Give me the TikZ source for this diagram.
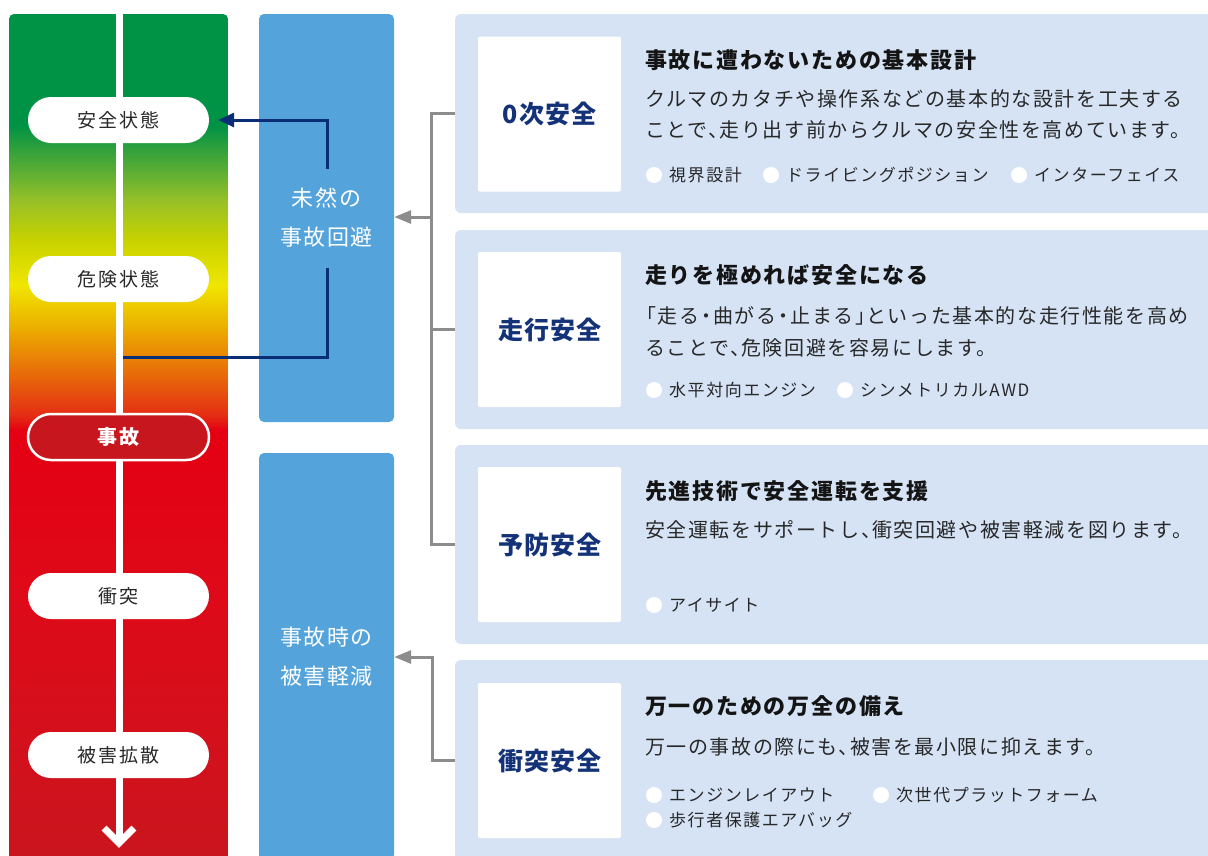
\documentclass[tikz,border=0pt]{standalone}
\usepackage{fontspec}
\setmainfont{Noto Sans CJK JP}
\newfontfamily\jpTitle[LetterSpace=8]{Noto Sans CJK JP}
\newfontfamily\jpBody[LetterSpace=8]{Noto Sans CJK JP}
\newfontfamily\jpBul[LetterSpace=9]{Noto Sans CJK JP}
\newfontfamily\jpPill[LetterSpace=9]{Noto Sans CJK JP}
\newfontfamily\jpBlue[LetterSpace=7]{Noto Sans CJK JP}
\newfontfamily\jpLab[LetterSpace=4]{Noto Sans CJK JP}
\usetikzlibrary{arrows.meta}
\newcommand\tten{、\kern-9pt}
\newcommand\lbr{\kern-9pt「}
\newcommand\rbr{」\kern-9pt}
\newcommand\nkdot{\kern-3pt・\kern-3pt}
\definecolor{gA}{RGB}{0,146,69}
\definecolor{gB}{RGB}{150,192,40}
\definecolor{gC}{RGB}{200,210,0}
\definecolor{gD}{RGB}{240,230,0}
\definecolor{gE}{RGB}{235,170,0}
\definecolor{gF}{RGB}{232,105,10}
\definecolor{gG}{RGB}{228,45,20}
\definecolor{gH}{RGB}{228,0,18}
\definecolor{gI}{RGB}{222,10,25}
\definecolor{gJ}{RGB}{200,22,30}
\definecolor{navy}{RGB}{10,45,120}
\definecolor{labnavy}{RGB}{20,50,120}
\definecolor{bluebox}{RGB}{84,164,219}
\definecolor{cardbg}{RGB}{213,227,245}
\definecolor{gline}{RGB}{140,140,140}
\definecolor{redpill}{RGB}{200,22,30}
\definecolor{txt}{RGB}{40,40,40}
\definecolor{ttl}{RGB}{20,20,20}
\begin{document}
\begin{tikzpicture}[x=1pt,y=-1pt,
  pill/.style={fill=white, rounded corners=23pt, minimum width=181pt, minimum height=46pt, inner sep=0pt, text=txt, font=\jpPill\fontsize{19}{19}\selectfont},
  redp/.style={pill, fill=redpill, draw=white, line width=2.5pt, text=white, font=\jpPill\bfseries\fontsize{20}{20}\selectfont},
  bbox/.style={fill=bluebox, rounded corners=5pt, minimum width=135pt, inner sep=0pt, text=white, align=center, font=\jpBlue\fontsize{22}{39}\selectfont},
  card/.style={fill=cardbg, rounded corners=6pt, minimum width=780pt, minimum height=199pt, inner sep=0pt},
  labbox/.style={fill=white, rounded corners=2pt, minimum width=143pt, minimum height=155pt, inner sep=0pt, text=labnavy, font=\jpLab\bfseries\fontsize{25}{25}\selectfont},
  ttlx/.style={anchor=west, inner sep=0pt, text=ttl, font=\jpTitle\bfseries\fontsize{22}{22}\selectfont},
  bodyx/.style={anchor=west, inner sep=0pt, text=txt, align=left, font=\jpBody\fontsize{20}{31.5}\selectfont},
  dot/.style={circle, fill=white, minimum size=16pt, inner sep=0pt},
  bul/.style={anchor=west, inner sep=0pt, text=txt, font=\jpBul\fontsize{17}{17}\selectfont},
  nline/.style={draw=navy, line width=3pt},
  glin/.style={draw=gline, line width=3pt},
]
\useasboundingbox (0,0) rectangle (1208,855);
\fill[white] (0,0) rectangle (1208,855);

% gradient bar
\begin{scope}
\clip[rounded corners=5pt] (9,14) rectangle (228,880);
\fill[gA] (9,10) rectangle (228,125.5);
\shade[top color=gA, bottom color=gB] (9,125) rectangle (228,200.5);
\shade[top color=gB, bottom color=gC] (9,200) rectangle (228,240.5);
\shade[top color=gC, bottom color=gD] (9,240) rectangle (228,285.5);
\shade[top color=gD, bottom color=gE] (9,285) rectangle (228,330.5);
\shade[top color=gE, bottom color=gF] (9,330) rectangle (228,375.5);
\shade[top color=gF, bottom color=gG] (9,375) rectangle (228,415.5);
\shade[top color=gG, bottom color=gH] (9,415) rectangle (228,430.5);
\shade[top color=gH, bottom color=gI] (9,430) rectangle (228,600.5);
\shade[top color=gI, bottom color=gJ] (9,600) rectangle (228,880);
\end{scope}

% white flow line with chevron
\draw[white, line width=7pt] (119,14) -- (119,842);
\draw[white, line width=7pt, miter limit=10] (104,828) -- (119,843) -- (134,828);

% pills
\node[pill] (p1) at (118.5,120) {安全状態};
\node[pill] (p2) at (118.5,279) {危険状態};
\node[redp] (p3) at (118.5,437) {事故};
\node[pill] (p4) at (118.5,596) {衝突};
\node[pill] (p5) at (118.5,755) {被害拡散};

% blue boxes
\node[bbox, minimum height=408pt] (b1) at (326.5,218) {未然の\\事故回避};
\node[bbox, minimum height=407pt] (b2) at (326.5,656.5) {事故時の\\被害軽減};

% navy connectors
\coordinate (n1) at (327,169);
\coordinate (n2) at (327,268);
\coordinate (n3) at (123,357);
\draw[nline, -{Triangle[length=16pt,width=14pt]}, shorten >=9pt] (n1) |- (p1.east);
\draw[nline] (n2) |- (n3);

% cards
\node[card] (c1) at (845,113.5) {};
\node[card] (c2) at (845,329.5) {};
\node[card] (c3) at (845,544.5) {};
\node[card, minimum height=200pt] (c4) at (845,760) {};

\node[labbox] (l1) at (549.5,114) {0次安全};
\node[labbox] (l2) at (549.5,329.5) {走行安全};
\node[labbox] (l3) at (549.5,544.5) {予防安全};
\node[labbox] (l4) at (549.5,760.5) {衝突安全};

% card 1
\node[ttlx] (t1) at (645,60) {事故に遭わないための基本設計};
\node[bodyx] (x1) at (645,114.5) {クルマのカタチや操作系などの基本的な設計を工夫する\\ことで\tten 走り出す前からクルマの安全性を高めています。};
\node[dot] (d11) at (654,175) {};
\node[bul] (u11) at (669,175) {視界設計};
\node[dot] (d12) at (771,175) {};
\node[bul] (u12) at (786,175) {ドライビングポジション};
\node[dot] (d13) at (1019,175) {};
\node[bul] (u13) at (1034,175) {インターフェイス};

% card 2
\node[ttlx] (t2) at (645,275) {走りを極めれば安全になる};
\node[bodyx] (x2) at (645,332) {\lbr 走る\nkdot 曲がる\nkdot 止まる\rbr といった基本的な走行性能を高め\\ることで\tten 危険回避を容易にします。};
\node[dot] (d21) at (654,390) {};
\node[bul] (u21) at (669,390) {水平対向エンジン};
\node[dot] (d22) at (845,390) {};
\node[bul] (u22) at (860,390) {シンメトリカルAWD};

% card 3
\node[ttlx] (t3) at (645,491) {先進技術で安全運転を支援};
\node[bodyx] (x3) at (645,530) {安全運転をサポートし\tten 衝突回避や被害軽減を図ります。};
\node[dot] (d31) at (654,605) {};
\node[bul] (u31) at (669,605) {アイサイト};

% card 4
\node[ttlx] (t4) at (645,706) {万一のための万全の備え};
\node[bodyx] (x4) at (645,747) {万一の事故の際にも\tten 被害を最小限に抑えます。};
\node[dot] (d41) at (654,795) {};
\node[bul] (u41) at (669,795) {エンジンレイアウト};
\node[dot] (d42) at (881,795) {};
\node[bul] (u42) at (896,795) {次世代プラットフォーム};
\node[dot] (d43) at (654,820) {};
\node[bul] (u43) at (669,820) {歩行者保護エアバッグ};

% gray connectors
\coordinate (j1) at (432,217);
\coordinate (j2) at (432,657);
\draw[glin] (c1.west) -- ++(-23,0) |- (c3.west);
\draw[glin] (c2.west) -- ++(-23,0);
\draw[glin, -{Triangle[length=17pt,width=13pt]}] (j1) -- (b1.east |- j1);
\draw[glin, -{Triangle[length=17pt,width=13pt]}] (c4.west) -| (j2) -- (b2.east |- j2);
\end{tikzpicture}
\end{document}
